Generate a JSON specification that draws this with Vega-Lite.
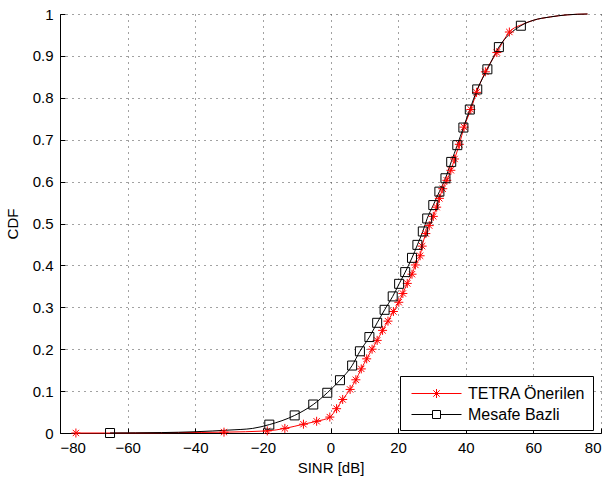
{
  "$schema": "https://vega.github.io/schema/vega-lite/v6.json",
  "width": 541,
  "height": 419,
  "autosize": "none",
  "padding": {"left": 60, "top": 14, "right": 10, "bottom": 46},
  "background": "white",
  "config": {
    "view": {"stroke": null},
    "font": "Liberation Sans",
    "axis": {
      "domainColor": "black",
      "domainWidth": 1,
      "tickColor": "black",
      "tickSize": -5,
      "labelColor": "black",
      "labelFontSize": 15,
      "titleColor": "black",
      "titleFontSize": 15,
      "titleFontWeight": "normal",
      "gridColor": "#444444",
      "gridDash": [1, 5],
      "gridWidth": 1,
      "gridOpacity": 1
    },
    "legend": {
      "labelFontSize": 16,
      "labelColor": "black",
      "labelFont": "Liberation Sans"
    }
  },
  "datasets": {
    "curves": [
      {"series": "TETRA Önerilen", "x": -75.3, "y": 0},
      {"series": "TETRA Önerilen", "x": -60, "y": 0},
      {"series": "TETRA Önerilen", "x": -45, "y": 0.001},
      {"series": "TETRA Önerilen", "x": -31.5, "y": 0.002},
      {"series": "TETRA Önerilen", "x": -18.7, "y": 0.005},
      {"series": "TETRA Önerilen", "x": -13.5, "y": 0.011},
      {"series": "TETRA Önerilen", "x": -8.0, "y": 0.021},
      {"series": "TETRA Önerilen", "x": -4.1, "y": 0.028},
      {"series": "TETRA Önerilen", "x": -0.2, "y": 0.038},
      {"series": "TETRA Önerilen", "x": 1.8, "y": 0.058},
      {"series": "TETRA Önerilen", "x": 3.6, "y": 0.080},
      {"series": "TETRA Önerilen", "x": 5.8, "y": 0.104},
      {"series": "TETRA Önerilen", "x": 7.5, "y": 0.127},
      {"series": "TETRA Önerilen", "x": 9.1, "y": 0.153},
      {"series": "TETRA Önerilen", "x": 10.7, "y": 0.177},
      {"series": "TETRA Önerilen", "x": 12.3, "y": 0.200},
      {"series": "TETRA Önerilen", "x": 13.8, "y": 0.221},
      {"series": "TETRA Önerilen", "x": 15.4, "y": 0.245},
      {"series": "TETRA Önerilen", "x": 17.0, "y": 0.267},
      {"series": "TETRA Önerilen", "x": 18.6, "y": 0.290},
      {"series": "TETRA Önerilen", "x": 20.2, "y": 0.312},
      {"series": "TETRA Önerilen", "x": 21.4, "y": 0.333},
      {"series": "TETRA Önerilen", "x": 22.7, "y": 0.357},
      {"series": "TETRA Önerilen", "x": 24.1, "y": 0.379},
      {"series": "TETRA Önerilen", "x": 25.1, "y": 0.401},
      {"series": "TETRA Önerilen", "x": 26.5, "y": 0.423},
      {"series": "TETRA Önerilen", "x": 27.1, "y": 0.446},
      {"series": "TETRA Önerilen", "x": 28.2, "y": 0.476},
      {"series": "TETRA Önerilen", "x": 29.2, "y": 0.495},
      {"series": "TETRA Önerilen", "x": 30.4, "y": 0.517},
      {"series": "TETRA Önerilen", "x": 31.4, "y": 0.539},
      {"series": "TETRA Önerilen", "x": 32.2, "y": 0.560},
      {"series": "TETRA Önerilen", "x": 33.2, "y": 0.583},
      {"series": "TETRA Önerilen", "x": 34.4, "y": 0.603},
      {"series": "TETRA Önerilen", "x": 35.6, "y": 0.627},
      {"series": "TETRA Önerilen", "x": 36.7, "y": 0.654},
      {"series": "TETRA Önerilen", "x": 38.1, "y": 0.689},
      {"series": "TETRA Önerilen", "x": 39.5, "y": 0.730},
      {"series": "TETRA Önerilen", "x": 41.5, "y": 0.772},
      {"series": "TETRA Önerilen", "x": 43.2, "y": 0.813},
      {"series": "TETRA Önerilen", "x": 45.8, "y": 0.862},
      {"series": "TETRA Önerilen", "x": 49.2, "y": 0.908},
      {"series": "TETRA Önerilen", "x": 52.9, "y": 0.957},
      {"series": "TETRA Önerilen", "x": 57, "y": 0.976},
      {"series": "TETRA Önerilen", "x": 60, "y": 0.985},
      {"series": "TETRA Önerilen", "x": 65, "y": 0.993},
      {"series": "TETRA Önerilen", "x": 70, "y": 0.998},
      {"series": "TETRA Önerilen", "x": 76, "y": 1.0},
      {"series": "Mesafe Bazli", "x": -65.2, "y": 0},
      {"series": "Mesafe Bazli", "x": -50, "y": 0.001},
      {"series": "Mesafe Bazli", "x": -40, "y": 0.003},
      {"series": "Mesafe Bazli", "x": -30, "y": 0.007},
      {"series": "Mesafe Bazli", "x": -23, "y": 0.011},
      {"series": "Mesafe Bazli", "x": -18.1, "y": 0.020},
      {"series": "Mesafe Bazli", "x": -10.6, "y": 0.042},
      {"series": "Mesafe Bazli", "x": -5.1, "y": 0.068},
      {"series": "Mesafe Bazli", "x": -0.95, "y": 0.096},
      {"series": "Mesafe Bazli", "x": 2.8, "y": 0.126},
      {"series": "Mesafe Bazli", "x": 6.4, "y": 0.161},
      {"series": "Mesafe Bazli", "x": 8.7, "y": 0.195},
      {"series": "Mesafe Bazli", "x": 11.5, "y": 0.229},
      {"series": "Mesafe Bazli", "x": 13.8, "y": 0.263},
      {"series": "Mesafe Bazli", "x": 16.0, "y": 0.294},
      {"series": "Mesafe Bazli", "x": 18.4, "y": 0.326},
      {"series": "Mesafe Bazli", "x": 20.3, "y": 0.356},
      {"series": "Mesafe Bazli", "x": 22.1, "y": 0.384},
      {"series": "Mesafe Bazli", "x": 24.1, "y": 0.418},
      {"series": "Mesafe Bazli", "x": 25.7, "y": 0.449},
      {"series": "Mesafe Bazli", "x": 27.3, "y": 0.481},
      {"series": "Mesafe Bazli", "x": 28.6, "y": 0.512},
      {"series": "Mesafe Bazli", "x": 30.4, "y": 0.544},
      {"series": "Mesafe Bazli", "x": 32.2, "y": 0.576},
      {"series": "Mesafe Bazli", "x": 34.0, "y": 0.608},
      {"series": "Mesafe Bazli", "x": 35.7, "y": 0.647},
      {"series": "Mesafe Bazli", "x": 37.5, "y": 0.687},
      {"series": "Mesafe Bazli", "x": 39.3, "y": 0.729},
      {"series": "Mesafe Bazli", "x": 41.2, "y": 0.772},
      {"series": "Mesafe Bazli", "x": 43.4, "y": 0.820},
      {"series": "Mesafe Bazli", "x": 46.4, "y": 0.868},
      {"series": "Mesafe Bazli", "x": 49.8, "y": 0.921},
      {"series": "Mesafe Bazli", "x": 56.3, "y": 0.972},
      {"series": "Mesafe Bazli", "x": 60, "y": 0.985},
      {"series": "Mesafe Bazli", "x": 65, "y": 0.993},
      {"series": "Mesafe Bazli", "x": 70, "y": 0.998},
      {"series": "Mesafe Bazli", "x": 76, "y": 1.0}
    ],
    "markers": [
      {"series": "TETRA Önerilen", "x": -75.3, "y": 0},
      {"series": "TETRA Önerilen", "x": -31.5, "y": 0.002},
      {"series": "TETRA Önerilen", "x": -18.7, "y": 0.005},
      {"series": "TETRA Önerilen", "x": -13.5, "y": 0.011},
      {"series": "TETRA Önerilen", "x": -8.0, "y": 0.021},
      {"series": "TETRA Önerilen", "x": -4.1, "y": 0.028},
      {"series": "TETRA Önerilen", "x": -0.2, "y": 0.038},
      {"series": "TETRA Önerilen", "x": 1.8, "y": 0.058},
      {"series": "TETRA Önerilen", "x": 3.6, "y": 0.080},
      {"series": "TETRA Önerilen", "x": 5.8, "y": 0.104},
      {"series": "TETRA Önerilen", "x": 7.5, "y": 0.127},
      {"series": "TETRA Önerilen", "x": 9.1, "y": 0.153},
      {"series": "TETRA Önerilen", "x": 10.7, "y": 0.177},
      {"series": "TETRA Önerilen", "x": 12.3, "y": 0.200},
      {"series": "TETRA Önerilen", "x": 13.8, "y": 0.221},
      {"series": "TETRA Önerilen", "x": 15.4, "y": 0.245},
      {"series": "TETRA Önerilen", "x": 17.0, "y": 0.267},
      {"series": "TETRA Önerilen", "x": 18.6, "y": 0.290},
      {"series": "TETRA Önerilen", "x": 20.2, "y": 0.312},
      {"series": "TETRA Önerilen", "x": 21.4, "y": 0.333},
      {"series": "TETRA Önerilen", "x": 22.7, "y": 0.357},
      {"series": "TETRA Önerilen", "x": 24.1, "y": 0.379},
      {"series": "TETRA Önerilen", "x": 25.1, "y": 0.401},
      {"series": "TETRA Önerilen", "x": 26.5, "y": 0.423},
      {"series": "TETRA Önerilen", "x": 27.1, "y": 0.446},
      {"series": "TETRA Önerilen", "x": 28.2, "y": 0.476},
      {"series": "TETRA Önerilen", "x": 29.2, "y": 0.495},
      {"series": "TETRA Önerilen", "x": 30.4, "y": 0.517},
      {"series": "TETRA Önerilen", "x": 31.4, "y": 0.539},
      {"series": "TETRA Önerilen", "x": 32.2, "y": 0.560},
      {"series": "TETRA Önerilen", "x": 33.2, "y": 0.583},
      {"series": "TETRA Önerilen", "x": 34.4, "y": 0.603},
      {"series": "TETRA Önerilen", "x": 35.6, "y": 0.627},
      {"series": "TETRA Önerilen", "x": 36.7, "y": 0.654},
      {"series": "TETRA Önerilen", "x": 38.1, "y": 0.689},
      {"series": "TETRA Önerilen", "x": 39.5, "y": 0.730},
      {"series": "TETRA Önerilen", "x": 41.5, "y": 0.772},
      {"series": "TETRA Önerilen", "x": 43.2, "y": 0.813},
      {"series": "TETRA Önerilen", "x": 45.8, "y": 0.862},
      {"series": "TETRA Önerilen", "x": 49.2, "y": 0.908},
      {"series": "TETRA Önerilen", "x": 52.9, "y": 0.957},
      {"series": "Mesafe Bazli", "x": -65.2, "y": 0},
      {"series": "Mesafe Bazli", "x": -18.1, "y": 0.020},
      {"series": "Mesafe Bazli", "x": -10.6, "y": 0.042},
      {"series": "Mesafe Bazli", "x": -5.1, "y": 0.068},
      {"series": "Mesafe Bazli", "x": -0.95, "y": 0.096},
      {"series": "Mesafe Bazli", "x": 2.8, "y": 0.126},
      {"series": "Mesafe Bazli", "x": 6.4, "y": 0.161},
      {"series": "Mesafe Bazli", "x": 8.7, "y": 0.195},
      {"series": "Mesafe Bazli", "x": 11.5, "y": 0.229},
      {"series": "Mesafe Bazli", "x": 13.8, "y": 0.263},
      {"series": "Mesafe Bazli", "x": 16.0, "y": 0.294},
      {"series": "Mesafe Bazli", "x": 18.4, "y": 0.326},
      {"series": "Mesafe Bazli", "x": 20.3, "y": 0.356},
      {"series": "Mesafe Bazli", "x": 22.1, "y": 0.384},
      {"series": "Mesafe Bazli", "x": 24.1, "y": 0.418},
      {"series": "Mesafe Bazli", "x": 25.7, "y": 0.449},
      {"series": "Mesafe Bazli", "x": 27.3, "y": 0.481},
      {"series": "Mesafe Bazli", "x": 28.6, "y": 0.512},
      {"series": "Mesafe Bazli", "x": 30.4, "y": 0.544},
      {"series": "Mesafe Bazli", "x": 32.2, "y": 0.576},
      {"series": "Mesafe Bazli", "x": 34.0, "y": 0.608},
      {"series": "Mesafe Bazli", "x": 35.7, "y": 0.647},
      {"series": "Mesafe Bazli", "x": 37.5, "y": 0.687},
      {"series": "Mesafe Bazli", "x": 39.3, "y": 0.729},
      {"series": "Mesafe Bazli", "x": 41.2, "y": 0.772},
      {"series": "Mesafe Bazli", "x": 43.4, "y": 0.820},
      {"series": "Mesafe Bazli", "x": 46.4, "y": 0.868},
      {"series": "Mesafe Bazli", "x": 49.8, "y": 0.921},
      {"series": "Mesafe Bazli", "x": 56.3, "y": 0.972}
    ]
  },
  "encoding": {
    "x": {
      "field": "x", "type": "quantitative",
      "scale": {"domain": [-80, 80], "nice": false, "zero": false},
      "axis": {"values": [-80, -60, -40, -20, 0, 20, 40, 60, 80], "format": "d", "title": "SINR [dB]", "grid": true, "labelPadding": 12, "titlePadding": 5}
    },
    "y": {
      "field": "y", "type": "quantitative",
      "scale": {"domain": [0, 1], "nice": false},
      "axis": {"values": [0, 0.1, 0.2, 0.3, 0.4, 0.5, 0.6, 0.7, 0.8, 0.9, 1], "format": "~g", "title": "CDF", "grid": true, "labelPadding": 12, "titlePadding": 12}
    }
  },
  "layer": [
    {
      "data": {"name": "curves"},
      "transform": [{"filter": "datum.series == 'TETRA Önerilen'"}],
      "mark": {"type": "line", "color": "#ff0000", "strokeWidth": 1, "interpolate": "monotone"}
    },
    {
      "data": {"name": "curves"},
      "transform": [{"filter": "datum.series == 'Mesafe Bazli'"}],
      "mark": {"type": "line", "color": "black", "strokeWidth": 1, "interpolate": "monotone"}
    },
    {
      "data": {"name": "markers"},
      "transform": [{"filter": "datum.series == 'TETRA Önerilen'"}],
      "mark": {"type": "point", "filled": false, "color": "#ff0000", "strokeWidth": 1, "size": 81, "opacity": 1, "shape": "M-1,0L1,0M0,-1L0,1M-0.7,-0.7L0.7,0.7M-0.7,0.7L0.7,-0.7"}
    },
    {
      "data": {"name": "markers"},
      "transform": [{"filter": "datum.series == 'Mesafe Bazli'"}],
      "mark": {"type": "point", "filled": false, "color": "black", "strokeWidth": 1, "size": 81, "opacity": 1, "shape": "M-1,-1L1,-1L1,1L-1,1Z"}
    },
    {
      "data": {"name": "markers"},
      "transform": [{"filter": "datum.x > 1000"}],
      "mark": {"type": "point", "filled": false, "strokeWidth": 1, "opacity": 1},
      "encoding": {
        "color": {
          "field": "series", "type": "nominal",
          "scale": {"domain": ["TETRA Önerilen", "Mesafe Bazli"], "range": ["#ff0000", "black"]},
          "legend": {
            "title": null,
            "orient": "none",
            "legendX": 340,
            "legendY": 362,
            "padding": 7,
            "symbolOffset": 19,
            "strokeColor": "black",
            "fillColor": "white",
            "symbolSize": 400,
            "symbolStrokeWidth": 1,
            "labelOffset": 21,
            "rowPadding": 2
          }
        },
        "shape": {
          "field": "series", "type": "nominal",
          "scale": {"domain": ["TETRA Önerilen", "Mesafe Bazli"], "range": ["M-2.5,0L2.5,0M0,-0.45L0,0.45M-0.32,-0.32L0.32,0.32M-0.32,0.32L0.32,-0.32", "M-2.5,0L-0.4,0M0.4,0L2.5,0M-0.4,-0.4L0.4,-0.4L0.4,0.4L-0.4,0.4Z"]},
          "legend": {
            "title": null,
            "orient": "none",
            "legendX": 340,
            "legendY": 362,
            "padding": 7,
            "symbolOffset": 19,
            "strokeColor": "black",
            "fillColor": "white",
            "symbolSize": 400,
            "symbolStrokeWidth": 1,
            "labelOffset": 21,
            "rowPadding": 2
          }
        }
      }
    }
  ]
}
